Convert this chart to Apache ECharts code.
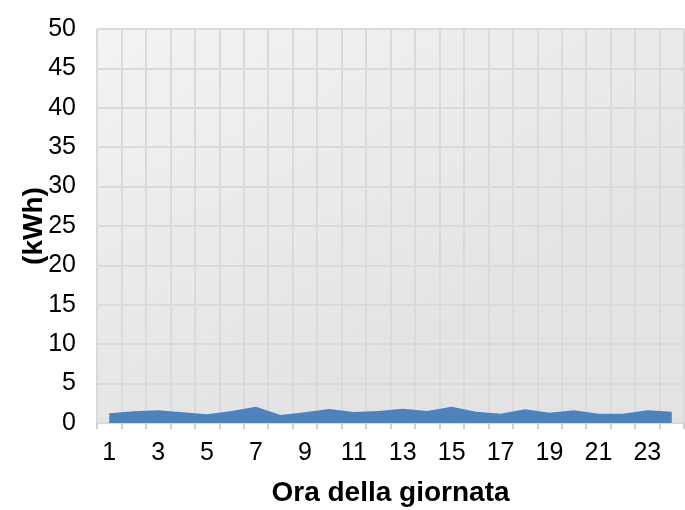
<!DOCTYPE html>
<html>
<head>
<meta charset="utf-8">
<script src="https://cdn.jsdelivr.net/npm/echarts@6/dist/echarts.min.js"></script>
<style>
html,body{margin:0;padding:0;background:#fff;}
#chart{width:685px;height:510px;}
</style>
</head>
<body>
<div id="chart"></div>
<script>
const hours = ['1','2','3','4','5','6','7','8','9','10','11','12','13','14','15','16','17','18','19','20','21','22','23','24'];
const energy = [1.23, 1.48, 1.61, 1.36, 1.10, 1.52, 2.07, 1.02, 1.36, 1.78, 1.40, 1.52, 1.82, 1.52, 2.07, 1.44, 1.18, 1.74, 1.31, 1.61, 1.18, 1.18, 1.61, 1.44];
const yMin = 0, yMax = 50, yStep = 5;
const xTitle = 'Ora della giornata';
const yTitle = '(kWh)';

const chart = echarts.init(document.getElementById('chart'), null, {renderer: 'canvas'});
const font = '"Liberation Sans", Arial, sans-serif';
chart.setOption({
  animation: false,
  grid: {
    left: 97, right: 1, top: 29, bottom: 87,
    outerBoundsMode: 'none',
    containLabel: false,
    show: true, borderWidth: 0,
    backgroundColor: {
      type: 'linear', x: 0, y: 0, x2: 0.3, y2: 1,
      colorStops: [{offset: 0, color: '#f3f3f3'}, {offset: 1, color: '#e3e3e3'}]
    }
  },
  xAxis: {
    type: 'category',
    data: hours,
    boundaryGap: true,
    name: xTitle,
    nameLocation: 'middle',
    nameGap: 56,
    nameMoveOverlap: false,
    nameTextStyle: {fontFamily: font, fontSize: 28, fontWeight: 'bold', color: '#000'},
    axisLine: {show: true, lineStyle: {color: '#d9d9d9', width: 2}},
    axisTick: {show: true, interval: 0, length: 6, lineStyle: {color: '#d0d0d0', width: 2}},
    axisLabel: {interval: 1, fontFamily: font, fontSize: 25, color: '#000', margin: 18},
    splitLine: {show: true, interval: 0, lineStyle: {color: '#dadada', width: 2}}
  },
  yAxis: {
    type: 'value',
    min: yMin, max: yMax, interval: yStep,
    name: yTitle,
    nameLocation: 'middle',
    nameGap: 49,
    nameRotate: 90,
    nameMoveOverlap: false,
    nameTextStyle: {fontFamily: font, fontSize: 28, fontWeight: 'bold', color: '#000'},
    axisLine: {show: false},
    axisTick: {show: false},
    axisLabel: {fontFamily: font, fontSize: 25, color: '#000', margin: 21},
    splitLine: {show: true, lineStyle: {color: '#dadada', width: 2}}
  },
  series: [{
    type: 'line',
    data: energy,
    symbol: 'none',
    lineStyle: {width: 0},
    areaStyle: {color: '#4f81bd', opacity: 1},
    z: 3
  }]
});
</script>
</body>
</html>
